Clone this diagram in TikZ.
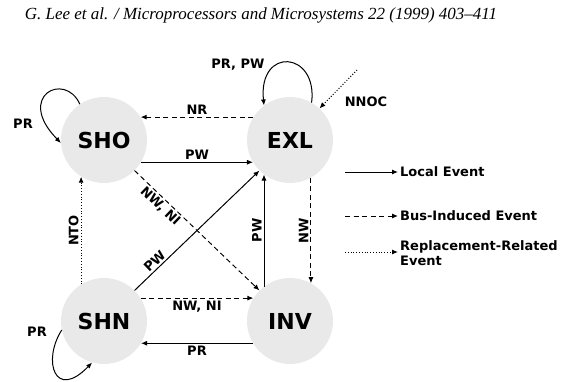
\documentclass[tikz,border=0pt]{standalone}
\usepackage{fontspec}
\setmainfont{DejaVu Sans}
\newfontfamily\hdrfont{Liberation Serif}
\usetikzlibrary{arrows.meta}

\tikzset{
    state/.style={circle, fill=gray!17, minimum size=86pt, inner sep=0pt, font=\fontsize{22}{24}\selectfont\bfseries},
    lbl/.style={font=\fontsize{13}{15}\selectfont\bfseries, inner sep=2pt},
    local/.style={line width=1pt, -{Latex[length=6pt,width=5pt]}},
    bus/.style={local, dash pattern=on 5pt off 3.5pt},
    repl/.style={local, dash pattern=on 1pt off 1.8pt}
}

\begin{document}
\begin{tikzpicture}[x=1pt, y=1pt]
    \useasboundingbox (0,0) rectangle (568,381);

    % header
    \node (hdr) at (261,366) {\hdrfont\itshape\fontsize{17}{19}\selectfont G. Lee et al. / Microprocessors and Microsystems 22 (1999) 403–411};

    % states
    \node[state] (sho) at (104,241) {SHO};
    \node[state] (exl) at (290,241) {EXL};
    \node[state] (shn) at (104,60) {SHN};
    \node[state] (inv) at (290,60) {INV};

    % transitions between states
    \draw[bus] (exl.148) -- (sho.32) node[lbl, midway, above] {NR};
    \draw[local] (sho.-31) -- (exl.211) node[lbl, midway, above] {PW};
    \draw[bus] (sho.-45) -- (inv.135) node[lbl, pos=0.25, sloped, below] {NW, NI};
    \draw[local] (shn.45) -- (exl.225) node[lbl, pos=0.2, sloped, above] {PW};
    \draw[local] (inv.127) -- (exl.233) node[lbl, midway, rotate=90, anchor=south] {PW};
    \draw[bus] (exl.-61) -- (inv.61) node[lbl, midway, rotate=90, anchor=south] {NW};
    \draw[repl] (shn.122) -- (sho.238) node[lbl, midway, rotate=90, anchor=south] {NTO};
    \draw[bus] (shn.32) -- (inv.148) node[lbl, midway, below] {NW, NI};
    \draw[local] (inv.211) -- (shn.-31) node[lbl, midway, below] {PR};

    % self loops
    \draw[local] (sho.124) .. controls (65,310) and (15,285) .. (sho.184);
    \node[lbl] (prsho) at (23,257) {PR};
    \draw[local] (exl.60) .. controls (318,330) and (258,335) .. (exl.127);
    \node[lbl] (prexl) at (238,316) {PR, PW};
    \draw[local] (shn.192) .. controls (42,20) and (55,-20) .. (shn.254);
    \node[lbl] (prshn) at (37,49) {PR};

    % NNOC
    \coordinate (nnocsrc) at (357,311);
    \draw[repl] (nnocsrc) -- (exl.47);
    \node[lbl] (nnoc) at (366,279) {NNOC};

    % legend
    \coordinate (lgA) at (345,209);
    \coordinate (lgB) at (345,165);
    \coordinate (lgC) at (345,129);
    \node[lbl, anchor=west] (lgAt) at (398,209) {Local Event};
    \node[lbl, anchor=west] (lgBt) at (398,165) {Bus-Induced Event};
    \node[lbl, anchor=west, align=left] (lgCt) at (398,128) {Replacement-Related\\Event};
    \draw[local] (lgA) -- (lgAt.west);
    \draw[bus] (lgB) -- (lgBt.west);
    \draw[repl] (lgC) -- (lgCt.west |- lgC);
\end{tikzpicture}
\end{document}
